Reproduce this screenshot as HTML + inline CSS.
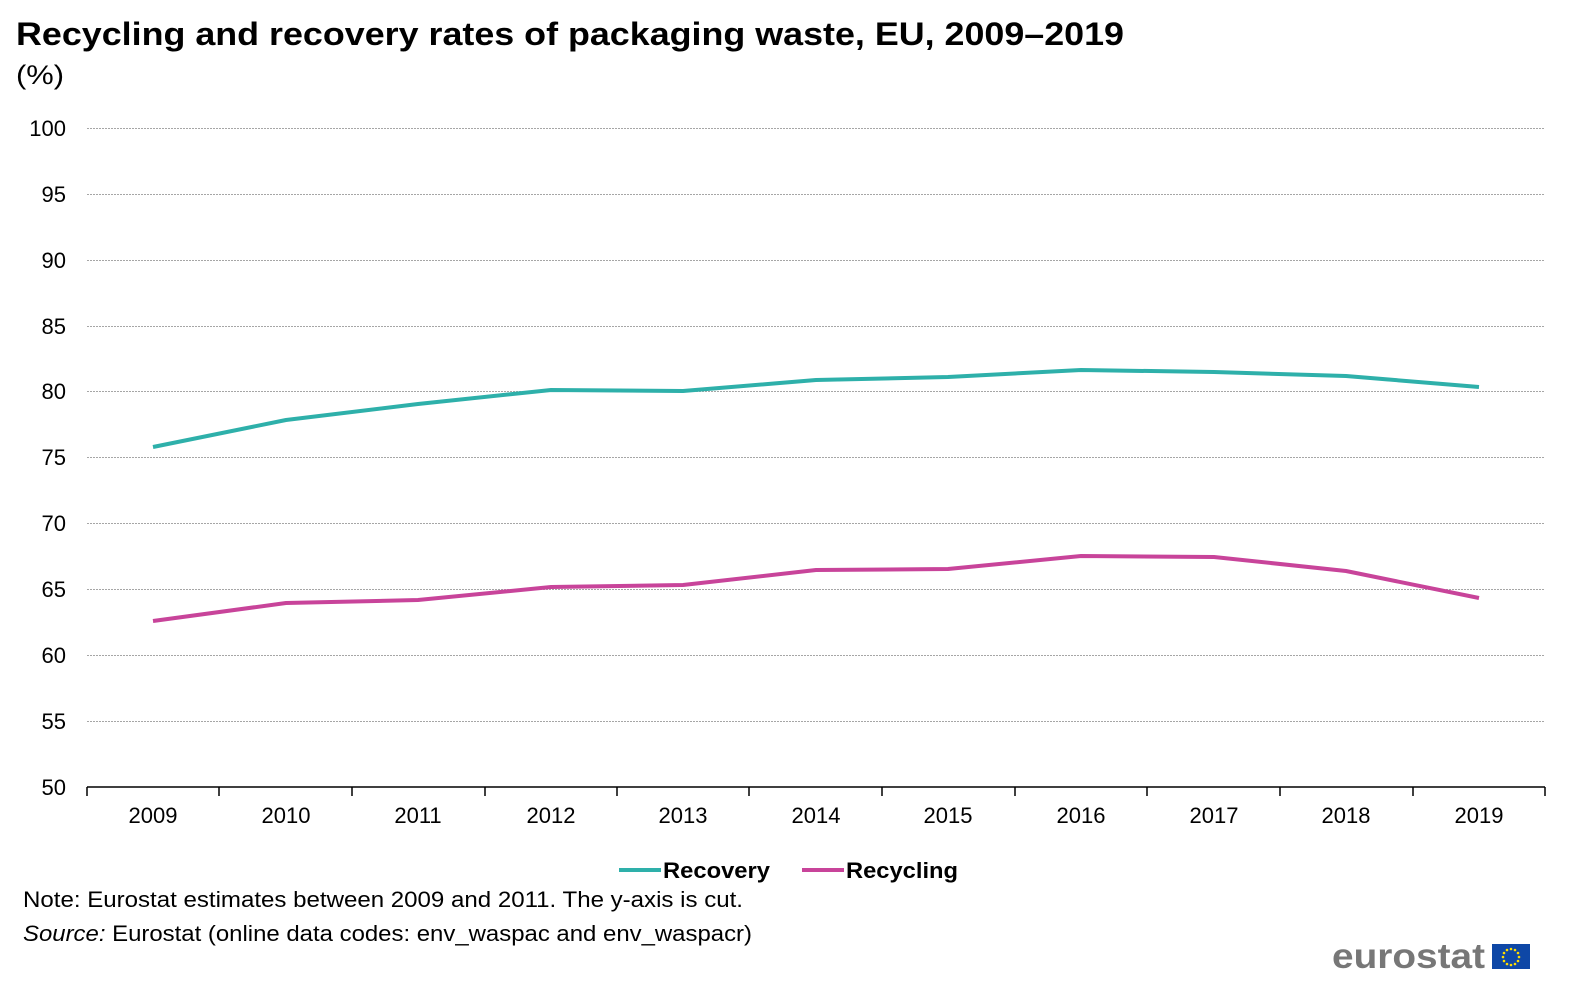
<!DOCTYPE html>
<html><head><meta charset="utf-8"><style>
body{margin:0;background:#fff;}
svg{display:block;font-family:"Liberation Sans",Arial,sans-serif;}
</style></head><body>
<svg width="1571" height="984" viewBox="0 0 1571 984" xmlns="http://www.w3.org/2000/svg">
<rect width="1571" height="984" fill="#fff"/>
<text x="16" y="45" font-size="32" font-weight="bold" fill="#000" textLength="1108" lengthAdjust="spacingAndGlyphs">Recycling and recovery rates of packaging waste, EU, 2009–2019</text>
<text x="16" y="84" font-size="27" fill="#000" textLength="48" lengthAdjust="spacingAndGlyphs">(%)</text>
<g stroke="#a6a6a6" stroke-width="1" stroke-dasharray="2,1">
<line x1="87" x2="1545" y1="128.5" y2="128.5"/>
<line x1="87" x2="1545" y1="194.5" y2="194.5"/>
<line x1="87" x2="1545" y1="260.5" y2="260.5"/>
<line x1="87" x2="1545" y1="326.5" y2="326.5"/>
<line x1="87" x2="1545" y1="391.5" y2="391.5"/>
<line x1="87" x2="1545" y1="457.5" y2="457.5"/>
<line x1="87" x2="1545" y1="523.5" y2="523.5"/>
<line x1="87" x2="1545" y1="589.5" y2="589.5"/>
<line x1="87" x2="1545" y1="655.5" y2="655.5"/>
<line x1="87" x2="1545" y1="721.5" y2="721.5"/>
</g>
<g font-size="22" fill="#000" text-anchor="end">
<text x="66" y="136">100</text><text x="66" y="202">95</text><text x="66" y="268">90</text>
<text x="66" y="334">85</text><text x="66" y="399">80</text><text x="66" y="465">75</text>
<text x="66" y="531">70</text><text x="66" y="597">65</text><text x="66" y="663">60</text>
<text x="66" y="729">55</text><text x="66" y="795">50</text>
</g>
<line x1="87" x2="1545" y1="787" y2="787" stroke="#000" stroke-width="1.5"/>
<g stroke="#000" stroke-width="1.5">
<line x1="87" x2="87" y1="787" y2="796"/><line x1="219" x2="219" y1="787" y2="796"/>
<line x1="352" x2="352" y1="787" y2="796"/><line x1="485" x2="485" y1="787" y2="796"/>
<line x1="617" x2="617" y1="787" y2="796"/><line x1="749" x2="749" y1="787" y2="796"/>
<line x1="882" x2="882" y1="787" y2="796"/><line x1="1015" x2="1015" y1="787" y2="796"/>
<line x1="1147" x2="1147" y1="787" y2="796"/><line x1="1280" x2="1280" y1="787" y2="796"/>
<line x1="1413" x2="1413" y1="787" y2="796"/><line x1="1545" x2="1545" y1="787" y2="796"/>
</g>
<g font-size="22" fill="#000" text-anchor="middle">
<text x="153" y="823">2009</text><text x="286" y="823">2010</text><text x="418" y="823">2011</text>
<text x="551" y="823">2012</text><text x="683" y="823">2013</text><text x="816" y="823">2014</text>
<text x="948" y="823">2015</text><text x="1081" y="823">2016</text><text x="1214" y="823">2017</text>
<text x="1346" y="823">2018</text><text x="1479" y="823">2019</text>
</g>
<polyline fill="none" stroke="#2eb0aa" stroke-width="4" stroke-linejoin="round"
 points="153,447 286,420 418,404 551,390 683,391 816,380 948,377 1081,370 1214,372 1346,376 1479,387"/>
<polyline fill="none" stroke="#c8449a" stroke-width="4" stroke-linejoin="round"
 points="153,621 286,603 418,600 551,587 683,585 816,570 948,569 1081,556 1214,557 1346,571 1479,598"/>
<line x1="619" x2="661" y1="870" y2="870" stroke="#2eb0aa" stroke-width="4"/>
<text x="663" y="878" font-size="22" font-weight="bold" textLength="107" lengthAdjust="spacingAndGlyphs">Recovery</text>
<line x1="802" x2="844" y1="870" y2="870" stroke="#c8449a" stroke-width="4"/>
<text x="846" y="878" font-size="22" font-weight="bold" textLength="112" lengthAdjust="spacingAndGlyphs">Recycling</text>
<text x="23" y="907" font-size="22" textLength="720" lengthAdjust="spacingAndGlyphs">Note: Eurostat estimates between 2009 and 2011. The y-axis is cut.</text>
<text x="23" y="941" font-size="22" textLength="729" lengthAdjust="spacingAndGlyphs"><tspan font-style="italic">Source:</tspan> Eurostat (online data codes: env_waspac and env_waspacr)</text>
<text x="1332" y="968" font-size="35" font-weight="bold" fill="#777" textLength="153" lengthAdjust="spacingAndGlyphs">eurostat</text>
<rect x="1492" y="944" width="38" height="25" fill="#0e47a6"/>
<g fill="#ffdd00">
<circle cx="1511" cy="949" r="1.3"/><circle cx="1515" cy="950" r="1.3"/><circle cx="1518" cy="953" r="1.3"/>
<circle cx="1519" cy="957" r="1.3"/><circle cx="1518" cy="961" r="1.3"/><circle cx="1515" cy="964" r="1.3"/>
<circle cx="1511" cy="965" r="1.3"/><circle cx="1507" cy="964" r="1.3"/><circle cx="1504" cy="961" r="1.3"/>
<circle cx="1503" cy="957" r="1.3"/><circle cx="1504" cy="953" r="1.3"/><circle cx="1507" cy="950" r="1.3"/>
</g>
</svg>
</body></html>
